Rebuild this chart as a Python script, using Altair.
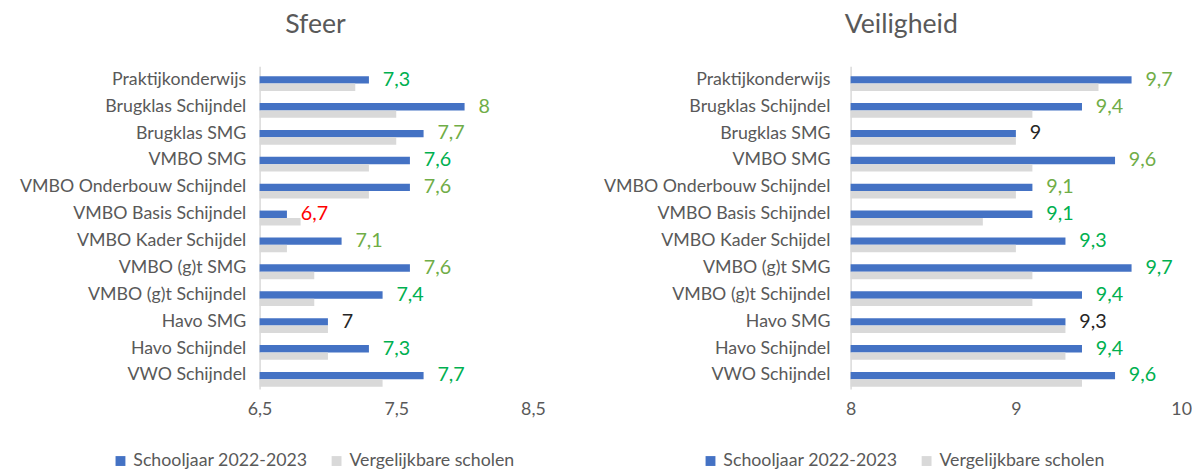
import altair as alt
import pandas as pd

categories = [
    "Praktijkonderwijs", "Brugklas Schijndel", "Brugklas SMG", "VMBO SMG",
    "VMBO Onderbouw Schijndel", "VMBO Basis Schijndel", "VMBO Kader Schijdel",
    "VMBO (g)t SMG", "VMBO (g)t Schijndel", "Havo SMG", "Havo Schijndel", "VWO Schijndel",
]
series = ["Schooljaar 2022-2023", "Vergelijkbare scholen"]

sfeer_school = [7.3, 8.0, 7.7, 7.6, 7.6, 6.7, 7.1, 7.6, 7.4, 7.0, 7.3, 7.7]
sfeer_ref = [7.2, 7.5, 7.5, 7.3, 7.3, 6.8, 6.7, 6.9, 6.9, 7.0, 7.0, 7.4]
veil_school = [9.7, 9.4, 9.0, 9.6, 9.1, 9.1, 9.3, 9.7, 9.4, 9.3, 9.4, 9.6]
veil_ref = [9.5, 9.1, 9.0, 9.1, 9.0, 8.8, 9.0, 9.1, 9.1, 9.3, 9.3, 9.4]

G1 = "#00B050"
G2 = "#70AD47"
R = "#FF0000"
K = "#262626"
sfeer_label_colors = [G1, G2, G2, G1, G2, R, G2, G2, G1, K, G1, G1]
veil_label_colors = [G2, G2, K, G2, G2, G1, G1, G1, G1, K, G1, G1]

sfeer_ticks = [6.5, 7.5, 8.5]
veil_ticks = [8, 9, 10]

FONT = "Lato"
GREY_TXT = "#595959"


def fmt(v):
    s = f"{v:.1f}"
    if s.endswith(".0"):
        s = s[:-2]
    return s.replace(".", ",")


def panel(title, school, ref, colors, ticks, width, title_dx, legend_x, label_pad):
    rows = []
    for c, a, b in zip(categories, school, ref):
        rows.append({"category": c, "series": series[0], "value": a})
        rows.append({"category": c, "series": series[1], "value": b})
    df = pd.DataFrame(rows)
    dfl = pd.DataFrame({
        "category": categories,
        "value": school,
        "label": [fmt(v) for v in school],
        "color": colors,
    })
    y = alt.Y(
        "category:N", sort=categories,
        scale=alt.Scale(paddingInner=0, paddingOuter=0),
        axis=alt.Axis(title=None, ticks=False, domainColor="#D9D9D9", domainWidth=1.5,
                      labelFont=FONT, labelFontSize=18, labelColor=GREY_TXT,
                      labelPadding=label_pad, grid=False, labelLimit=400),
    )
    xs = alt.Scale(domain=[ticks[0], ticks[-1]], zero=False, nice=False)
    x = alt.X(
        "value:Q", scale=xs,
        axis=alt.Axis(title=None, values=ticks, domain=False, ticks=False, grid=False,
                      labelFlush=False, labelOverlap=False,
                      labelFont=FONT, labelFontSize=18, labelColor=GREY_TXT, labelPadding=12,
                      labelExpr="replace(format(datum.value, '~g'), '.', ',')"),
    )
    bars = alt.Chart(df).mark_bar().encode(
        y=y,
        yOffset=alt.YOffset("series:N", sort=series,
                            scale=alt.Scale(paddingOuter=0.817, paddingInner=0, align=0.81)),
        x=x,
        x2=alt.datum(ticks[0]),
        color=alt.Color(
            "series:N", sort=series,
            scale=alt.Scale(domain=series, range=["#4472C4", "#D9D9D9"]),
            legend=alt.Legend(title=None, orient="none", direction="horizontal",
                              legendX=legend_x, legendY=391, symbolType="square",
                              symbolSize=100, symbolStrokeWidth=0, labelFont=FONT,
                              labelFontSize=18, labelColor=GREY_TXT, columnPadding=20,
                              labelOffset=4, labelLimit=400),
        ),
    )
    text = alt.Chart(dfl).mark_text(align="left", baseline="middle", dx=14, fontSize=20,
                                    font=FONT).encode(
        y=alt.Y("category:N", sort=categories),
        x=alt.X("value:Q", scale=xs),
        text="label:N",
        fill=alt.Fill("color:N", scale=None),
    )
    return alt.layer(bars, text).properties(
        width=width, height=327,
        title=alt.TitleParams(title, anchor="start", frame="group", dx=title_dx, offset=28,
                              font=FONT, fontSize=27, fontWeight="normal", color=GREY_TXT),
    )


left = panel("Sfeer", sfeer_school, sfeer_ref, sfeer_label_colors, sfeer_ticks, 277, 26, -150, 14)
right = panel("Veiligheid", veil_school, veil_ref, veil_label_colors, veil_ticks, 335, -6, -151, 21)

chart = alt.hconcat(left, right, spacing=58).resolve_scale(
    color="independent", x="independent", y="independent"
).properties(padding={"left": 11, "top": 0, "right": 0, "bottom": 0}).configure_view(stroke=None)

chart.save("out.html", embed_options={"renderer": "svg", "actions": False})
